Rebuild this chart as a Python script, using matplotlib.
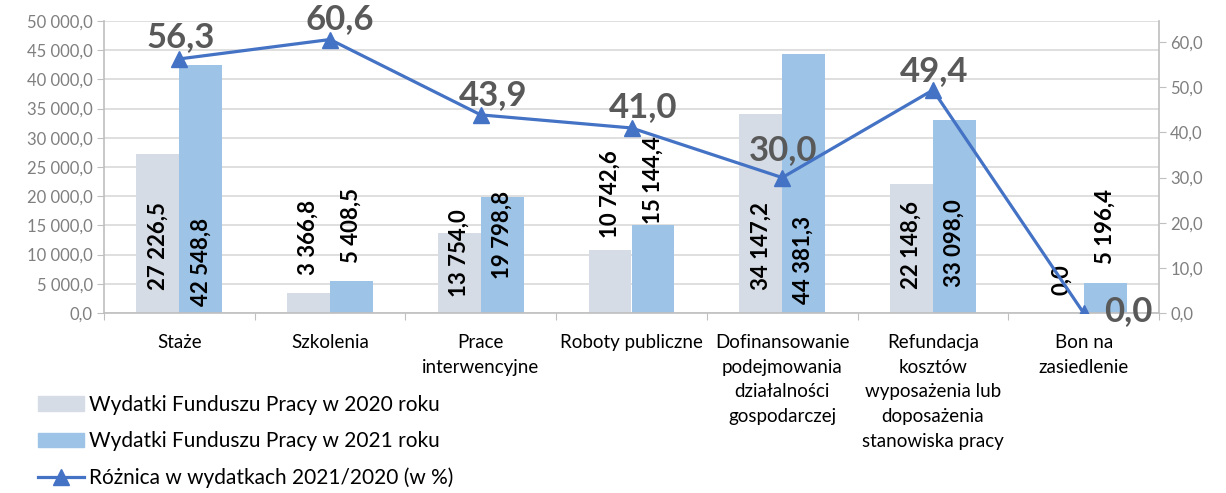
import matplotlib
matplotlib.use("Agg")
import matplotlib.pyplot as plt
import numpy as np
from matplotlib.patches import Patch
from matplotlib.lines import Line2D

plt.rcParams['font.family'] = ['Lato', 'DejaVu Sans']

categories = ["Staże", "Szkolenia", "Prace\ninterwencyjne", "Roboty publiczne",
              "Dofinansowanie\npodejmowania\ndziałalności\ngospodarczej",
              "Refundacja\nkosztów\nwyposażenia lub\ndoposażenia\nstanowiska pracy",
              "Bon na\nzasiedlenie"]
wydatki_2020 = [27226.5, 3366.8, 13754.0, 10742.6, 34147.2, 22148.6, 0.0]
wydatki_2021 = [42548.8, 5408.5, 19798.8, 15144.4, 44381.3, 33098.0, 5196.4]
roznica = [56.3, 60.6, 43.9, 41.0, 30.0, 49.4, 0.0]

labels = ["Wydatki Funduszu Pracy w 2020 roku",
          "Wydatki Funduszu Pracy w 2021 roku",
          "Różnica w wydatkach 2021/2020 (w %)"]

# label centres (left-axis units) as Excel placed them
lab20_y = [11470, 13010, 10270, 20380, 11470, 11640, 5650]
lab21_y = [8730, 14900, 13360, 22770, 9080, 11990, 14730]
# percent label offsets in pixels
pct_off = [(1, 22), (10, 20), (12, 20), (12, 21), (1, 28), (1, 19), (45, 2)]

c20 = "#D6DCE5"
c21 = "#9DC3E6"
cline = "#4472C4"
grid_c = "#D9D9D9"
axis_c = "#BFBFBF"
tick_c = "#7F7F7F"


def pl(v):
    return f"{v:,.1f}".replace(",", " ").replace(".", ",")


fig = plt.figure(figsize=(12.26, 4.93), dpi=100)
ax = fig.add_axes([104 / 1226, 1 - 313 / 493, (1159 - 104) / 1226, 292 / 493])
ax2 = ax.twinx()

x = np.arange(len(categories))
w = 0.285
ax.bar(x - w / 2, wydatki_2020, w, color=c20, zorder=2)
ax.bar(x + w / 2, wydatki_2021, w, color=c21, zorder=2)

for i in range(len(x)):
    ax.text(x[i] - w / 2, lab20_y[i], pl(wydatki_2020[i]), rotation=90, ha='center', va='center',
            fontsize=16, fontweight='bold', color='black', zorder=3)
    ax.text(x[i] + w / 2, lab21_y[i], pl(wydatki_2021[i]), rotation=90, ha='center', va='center',
            fontsize=16, fontweight='bold', color='black', zorder=3)

ax.set_ylim(0, 50000)
ax.set_xlim(-0.5, len(categories) - 0.5)
ax.set_yticks(np.arange(0, 50001, 5000))
ax.set_yticklabels([pl(v) for v in np.arange(0, 50001, 5000)])
ax.yaxis.grid(True, color=grid_c, lw=1.2, zorder=0)
ax.set_axisbelow(True)

ax.set_xticks(np.arange(-0.5, len(categories), 1))
ax.set_xticklabels([])
ax.set_xticks(x, minor=True)
ax.set_xticklabels(categories, minor=True, fontsize=13.5, linespacing=1.55)
ax.tick_params(axis='x', which='minor', length=0, pad=15)
ax.tick_params(axis='x', which='major', length=5, color=axis_c)
ax.tick_params(axis='y', length=5, color=axis_c, labelcolor=tick_c, labelsize=12, pad=3)

for s in ['top', 'right']:
    ax.spines[s].set_visible(False)
for s in ['left', 'bottom']:
    ax.spines[s].set_color(axis_c)
    ax.spines[s].set_linewidth(1.2)

ax2.plot(x, roznica, color=cline, lw=2.3, marker='^', markersize=11, zorder=4)
for i in range(len(x)):
    ax2.annotate(pl(roznica[i]), (x[i], roznica[i]), xytext=pct_off[i], textcoords='offset pixels',
                 ha='center', va='center', fontsize=25, fontweight='bold', color='#595959')
ax2.set_ylim(0, 64.7)
ax2.set_yticks(np.arange(0, 61, 10))
ax2.set_yticklabels([pl(v) for v in np.arange(0, 61, 10)])
ax2.tick_params(axis='y', length=5, color=axis_c, labelcolor=tick_c, labelsize=12, pad=3)
for s in ['top', 'left', 'bottom']:
    ax2.spines[s].set_visible(False)
ax2.spines['right'].set_color(axis_c)
ax2.spines['right'].set_linewidth(1.2)

handles = [Patch(color=c20), Patch(color=c21),
           Line2D([], [], color=cline, lw=2.3, marker='^', markersize=11)]
fig.legend(handles, labels, loc='upper left', bbox_to_anchor=(38 / 1226, 1 - 395 / 493),
           frameon=False, fontsize=15, handlelength=2.2, handleheight=0.7,
           handletextpad=0.25, labelspacing=0.78, borderaxespad=0, borderpad=0)

fig.savefig("out.png", dpi=100)
